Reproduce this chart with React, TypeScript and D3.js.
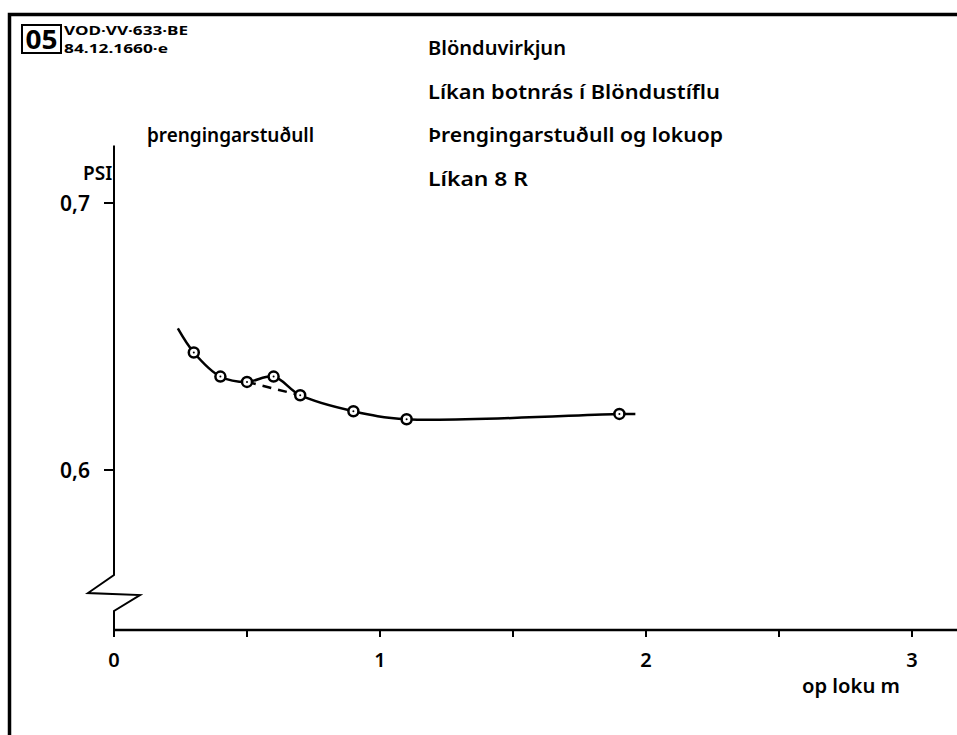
import React, { useEffect, useRef } from 'react';
import * as d3 from 'd3';

// measured points (op loku m, PSI)
const xValues = [0.3, 0.4, 0.5, 0.6, 0.7, 0.9, 1.1, 1.9];
const psiValues = [0.644, 0.635, 0.633, 0.635, 0.628, 0.622, 0.619, 0.621];
// drawn curve incl. ends
const curveX = [0.24, 0.3, 0.4, 0.5, 0.6, 0.7, 0.9, 1.1, 1.9, 1.96];
const curveY = [0.653, 0.644, 0.635, 0.633, 0.635, 0.628, 0.622, 0.619, 0.621, 0.621];
// dashed alternative between 0.5 and 0.7
const dashX = [0.5, 0.7];
const dashY = [0.633, 0.628];

const xTicks = [0, 1, 2, 3];
const xTickLabels = ['0', '1', '2', '3'];
const xMinorTicks = [0.5, 1.5, 2.5];
const yTicks = [0.6, 0.7];
const yTickLabels = ['0,6', '0,7'];

const titleLines = ['Blönduvirkjun', 'Líkan botnrás í Blöndustíflu', 'Þrengingarstuðull og lokuop', 'Líkan 8 R'];
const titleWidths = [138, 292, 295, 100];

const W = 957, H = 735;
const FONT = '"Noto Sans", sans-serif';

export default function App() {
  const ref = useRef<SVGSVGElement>(null);

  useEffect(() => {
    const svg = d3.select(ref.current);
    svg.selectAll('*').remove();

    const x = d3.scaleLinear().domain([0, 3]).range([114, 912]);
    const y = d3.scaleLinear().domain([0.6, 0.7]).range([470, 203]);
    const axisY = 630;
    const x0 = x(0);

    // frame
    svg.append('path')
      .attr('d', `M9.5,${H} L9.5,14.5 L${W},14.5`)
      .attr('fill', 'none').attr('stroke', '#000').attr('stroke-width', 3.5);

    // stamp
    svg.append('rect').attr('x', 22).attr('y', 25).attr('width', 39).attr('height', 28)
      .attr('fill', 'none').attr('stroke', '#000').attr('stroke-width', 2);
    svg.append('text').attr('x', 41.5).attr('y', 49).attr('text-anchor', 'middle')
      .attr('font-family', FONT).attr('font-weight', 'bold').attr('font-size', 27)
      .attr('textLength', 32).attr('lengthAdjust', 'spacingAndGlyphs')
      .text('05');
    svg.append('text').attr('x', 64).attr('y', 35).attr('font-family', FONT)
      .attr('font-weight', 'bold').attr('font-size', 13)
      .attr('textLength', 124).attr('lengthAdjust', 'spacingAndGlyphs').text('VOD·VV·633·BE');
    svg.append('text').attr('x', 64).attr('y', 53).attr('font-family', FONT)
      .attr('font-weight', 'bold').attr('font-size', 13)
      .attr('textLength', 104).attr('lengthAdjust', 'spacingAndGlyphs').text('84.12.1660·e');

    // y axis with break
    const yTop = y(0.7215);
    svg.append('path')
      .attr('d', `M${x0},${yTop} L${x0},575 L${x0 - 26},593 L${x0 + 26},595 L${x0},611 L${x0},${axisY + 4}`)
      .attr('fill', 'none').attr('stroke', '#000').attr('stroke-width', 2);
    svg.selectAll('.ytick').data(yTicks).enter().append('line')
      .attr('x1', x0 - 10).attr('x2', x0).attr('y1', d => y(d)).attr('y2', d => y(d))
      .attr('stroke', '#000').attr('stroke-width', 2);
    svg.selectAll('.ylab').data(yTicks).enter().append('text')
      .attr('x', 90).attr('y', d => y(d) + 8).attr('text-anchor', 'end')
      .attr('font-family', FONT).attr('font-size', 21).attr('font-weight', 600)
      .text((d, i) => yTickLabels[i]);

    // x axis
    svg.append('line').attr('x1', x0).attr('x2', W).attr('y1', axisY).attr('y2', axisY)
      .attr('stroke', '#000').attr('stroke-width', 2.5);
    svg.selectAll('.xtick').data([...xTicks, ...xMinorTicks]).enter().append('line')
      .attr('x1', d => x(d)).attr('x2', d => x(d)).attr('y1', axisY).attr('y2', axisY + 7)
      .attr('stroke', '#000').attr('stroke-width', 2);
    svg.selectAll('.xlab').data(xTicks).enter().append('text')
      .attr('x', d => x(d)).attr('y', 667).attr('text-anchor', 'middle')
      .attr('font-family', FONT).attr('font-size', 20).attr('font-weight', 600)
      .text((d, i) => xTickLabels[i]);
    svg.append('text').attr('x', 802).attr('y', 693).attr('font-family', FONT)
      .attr('font-size', 20).attr('font-weight', 600)
      .attr('textLength', 98).attr('lengthAdjust', 'spacingAndGlyphs')
      .text('op loku m');

    // labels
    svg.append('text').attr('x', 83).attr('y', 180).attr('font-family', FONT)
      .attr('font-size', 19).attr('font-weight', 600).text('PSI');
    svg.append('text').attr('x', 147).attr('y', 142).attr('font-family', FONT)
      .attr('font-size', 20).attr('font-weight', 600)
      .attr('textLength', 167).attr('lengthAdjust', 'spacingAndGlyphs')
      .text('þrengingarstuðull');
    svg.selectAll('.title').data(titleLines).enter().append('text')
      .attr('x', 428).attr('y', (d, i) => 55 + i * 43.7)
      .attr('font-family', FONT).attr('font-size', 20).attr('font-weight', 600)
      .attr('textLength', (d, i) => titleWidths[i]).attr('lengthAdjust', 'spacingAndGlyphs')
      .text(d => d);

    // curve
    const line = d3.line<number>().x((d, i) => x(curveX[i])).y(d => y(d))
      .curve(d3.curveCatmullRom.alpha(0.5));
    svg.append('path').datum(curveY).attr('d', line)
      .attr('fill', 'none').attr('stroke', '#000').attr('stroke-width', 2.5);

    const dline = d3.line<number>().x((d, i) => x(dashX[i])).y(d => y(d));
    svg.append('path').datum(dashY).attr('d', dline)
      .attr('fill', 'none').attr('stroke', '#000').attr('stroke-width', 2.5)
      .attr('stroke-dasharray', '9,7');

    // points
    const pts = svg.selectAll('.pt').data(psiValues).enter().append('g')
      .attr('transform', (d, i) => `translate(${x(xValues[i])},${y(d)})`);
    pts.append('circle').attr('r', 5).attr('fill', '#fff')
      .attr('stroke', '#000').attr('stroke-width', 2.5);
    pts.append('circle').attr('r', 1).attr('fill', '#000');
  }, []);

  return (
    <svg ref={ref} width={W} height={H}
      style={{ position: 'absolute', left: 0, top: 0, background: '#fff' }} />
  );
}
